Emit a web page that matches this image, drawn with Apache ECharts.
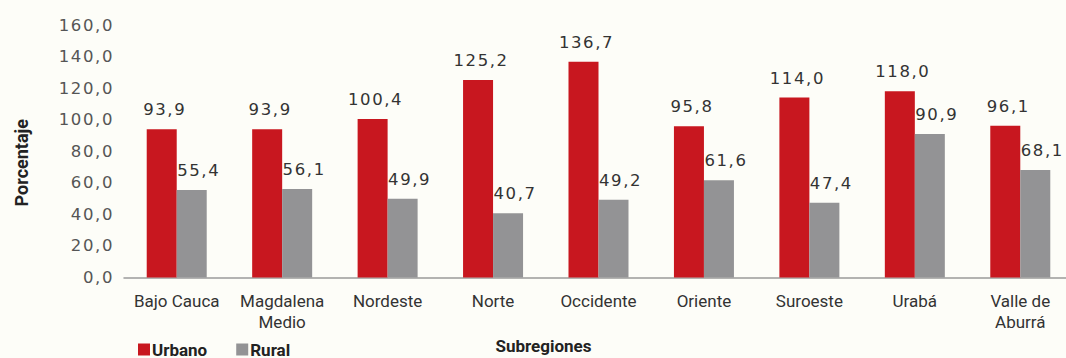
<!DOCTYPE html>
<html>
<head>
<meta charset="utf-8">
<script src="https://cdn.jsdelivr.net/npm/echarts@6/dist/echarts.min.js"></script>
<style>
  html, body { margin: 0; padding: 0; background: #fdfdf8; }
  #chart { width: 1066px; height: 358px; }
  /* numeric labels are set with open tracking */
  #chart text[style*="DejaVu"] { letter-spacing: 1.6px; }
</style>
</head>
<body>
<div id="chart"></div>
<script>
// Subregion names and the two series (percent)
const categories = ['Bajo Cauca', 'Magdalena\nMedio', 'Nordeste', 'Norte', 'Occidente', 'Oriente', 'Suroeste', 'Urabá', 'Valle de\nAburrá'];
const urbano = [93.9, 93.9, 100.4, 125.2, 136.7, 95.8, 114.0, 118.0, 96.1];
const rural = [55.4, 56.1, 49.9, 40.7, 49.2, 61.6, 47.4, 90.9, 68.1];
const yTicks = { min: 0, max: 160, interval: 20 };

const fmt = v => v.toFixed(1).replace('.', ',');
const chart = echarts.init(document.getElementById('chart'), null, { renderer: 'svg' });

const labelStyle = {
  show: true,
  position: 'top',
  distance: 11,
  color: '#333',
  fontFamily: 'DejaVu Sans',
  fontSize: 16.5,
  formatter: p => fmt(p.value)
};

chart.setOption({
  backgroundColor: '#fdfdf8',
  animation: false,
  grid: { left: 124, top: 25, width: 949, bottom: 80.5, containLabel: false, outerBoundsMode: 'none' },
  legend: {
    left: 133, top: 336,
    itemWidth: 12, itemHeight: 12, itemGap: 29,
    icon: 'rect',
    textStyle: { fontFamily: 'Roboto', fontWeight: 'bold', fontSize: 17, color: '#222', padding: [0, 0, 0, -3] },
    data: ['Urbano', 'Rural']
  },
  xAxis: {
    type: 'category',
    data: categories,
    name: 'Subregiones',
    nameLocation: 'middle',
    nameGap: 57,
    nameTextStyle: { fontFamily: 'Roboto', fontWeight: 'bold', fontSize: 17, color: '#222', padding: [0, 110, 0, 0] },
    axisLine: { lineStyle: { color: '#9a9a9a', width: 1.5 } },
    axisTick: { show: false },
    axisLabel: { interval: 0, fontFamily: 'Roboto', fontSize: 17, color: '#333', margin: 13, lineHeight: 21 }
  },
  yAxis: {
    type: 'value',
    min: yTicks.min, max: yTicks.max, interval: yTicks.interval,
    axisLine: { show: false },
    axisTick: { show: false },
    splitLine: { show: false },
    axisLabel: { fontFamily: 'DejaVu Sans', fontSize: 16.5, color: '#555', margin: 10, formatter: v => fmt(v) }
  },
  graphic: [{
    type: 'text',
    left: 12, top: 119,
    rotation: Math.PI / 2,
    style: { text: 'Porcentaje', font: 'bold 18px Roboto', fill: '#222' }
  }],
  series: [
    {
      name: 'Urbano', type: 'bar', data: urbano,
      barWidth: 30, barGap: '0%',
      itemStyle: { color: '#c8171f' },
      label: Object.assign({}, labelStyle, { offset: [3, 0] })
    },
    {
      name: 'Rural', type: 'bar', data: rural,
      barWidth: 30,
      itemStyle: { color: '#939395' },
      label: Object.assign({}, labelStyle, { offset: [7, 0] })
    }
  ]
});
</script>
</body>
</html>
